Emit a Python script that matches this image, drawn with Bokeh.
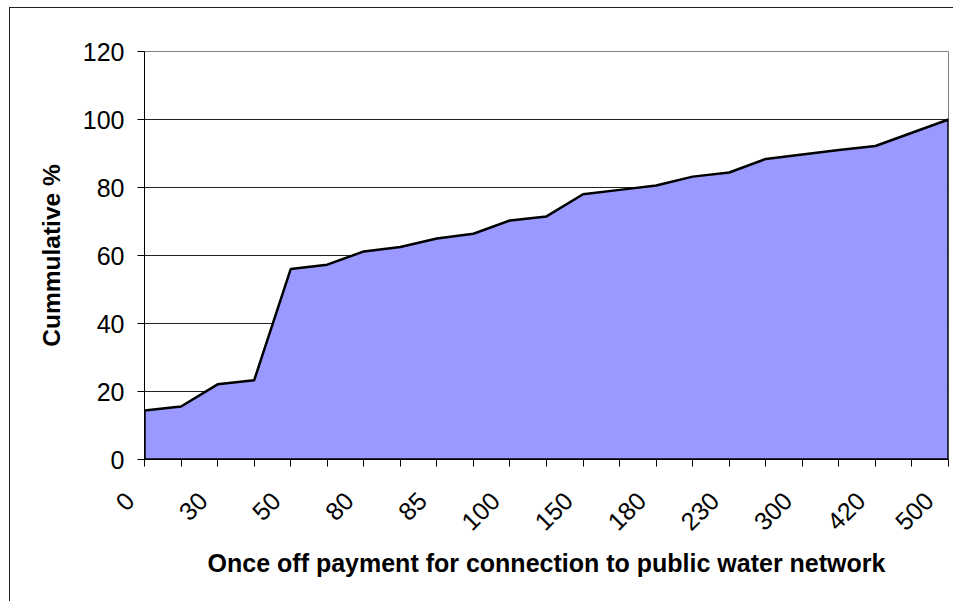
from bokeh.plotting import figure
from bokeh.models import Range1d, FixedTicker
from bokeh.embed import file_html
from bokeh.resources import INLINE
import math

# Category positions (23 payment levels; only every second one is labelled in the source)
tick_labels = ["0", "", "30", "", "50", "", "80", "", "85", "", "100", "",
               "150", "", "180", "", "230", "", "300", "", "420", "", "500"]
cumulative_pct = [14.4, 15.6, 22.1, 23.3, 56.0, 57.3, 61.2, 62.5, 65.0, 66.4,
                  70.3, 71.5, 78.0, 79.3, 80.6, 83.2, 84.4, 88.4, 89.7, 91.0,
                  92.2, 96.1, 100.0]
y_ticks = [0, 20, 40, 60, 80, 100, 120]

n = len(cumulative_pct)
xs = list(range(n))

p = figure(width=944, height=594, output_backend="svg", toolbar_location=None,
           x_range=Range1d(0, n - 1), y_range=Range1d(0, 120),
           min_border_left=134, min_border_top=43, min_border_right=6,
           min_border_bottom=143)

p.styles = {"border-top": "1px solid #222", "border-left": "1px solid #222",
            "margin-left": "9px", "margin-top": "7px"}

p.patch(xs + [n - 1, 0], cumulative_pct + [0, 0], fill_color="#9999FF",
        line_color="black", line_width=2.5)

FONT = "Liberation Sans"
PAD = "\u00a0\u00a0\u00a0"

p.xaxis.ticker = FixedTicker(ticks=xs)
p.xaxis.major_label_overrides = {i: (lab + PAD if lab else "") for i, lab in enumerate(tick_labels)}
p.xaxis.major_label_orientation = math.pi / 4
p.xaxis.axis_label = "Once off payment for connection to public water network"
p.yaxis.ticker = FixedTicker(ticks=y_ticks)
p.yaxis.axis_label = "Cummulative %"

for ax in (p.xaxis[0], p.yaxis[0]):
    ax.major_label_text_font = FONT
    ax.major_label_text_font_size = "25px"
    ax.major_label_text_color = "black"
    ax.axis_label_text_font = FONT
    ax.axis_label_text_font_style = "bold"
    ax.axis_label_text_color = "black"
    ax.axis_line_color = "black"
    ax.major_tick_line_color = "black"
    ax.major_tick_in = 0
    ax.major_tick_out = 7
    ax.minor_tick_line_color = None

p.xaxis.axis_label_text_font_size = "25px"
p.yaxis.axis_label_text_font_size = "24.5px"

p.yaxis.major_label_standoff = 13
p.yaxis.axis_label_standoff = 15
p.xaxis.major_label_standoff = 15
p.xaxis.axis_label_standoff = 0

p.xgrid.grid_line_color = None
p.ygrid.ticker = FixedTicker(ticks=y_ticks)
p.ygrid.grid_line_color = "#222222"
p.ygrid.grid_line_width = 1

p.outline_line_color = "#808080"
p.outline_line_width = 1
p.background_fill_color = "white"
p.border_fill_color = "white"

open("out.html", "w").write(file_html(p, INLINE))
